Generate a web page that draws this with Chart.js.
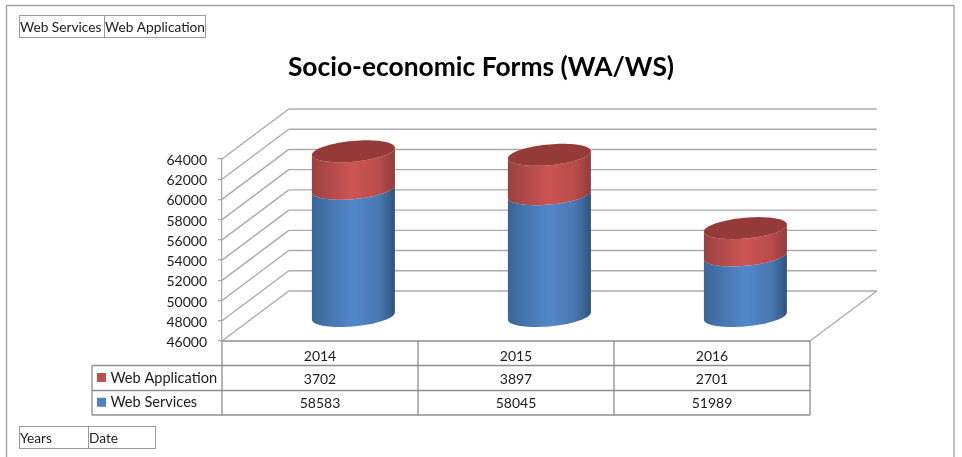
<!DOCTYPE html>
<html>
<head>
<meta charset="utf-8">
<title>Socio-economic Forms (WA/WS)</title>
<script src="https://cdn.jsdelivr.net/npm/chart.js@4"></script>
<style>
    html, body { margin: 0; padding: 0; background: #fff; overflow: hidden; }
    canvas { display: block; }
</style>
</head>
<body>
<canvas id="chart" width="962" height="457"></canvas>
<script>
const years = ["2014", "2015", "2016"]
const webServices = [58583, 58045, 51989]
const webApplication = [3702, 3897, 2701]
const axisMin = 46000
const axisMax = 64000
const axisStep = 2000
const topFields = ["Web Services", "Web Application"]
const bottomFields = ["Years", "Date"]

const FONT = "Lato, Carlito, sans-serif"
const TEXT = "#1c1c1c"
const WALL = "#ababab"
const TABLE = "#8e8e8e"
const DEPTH_X = 66.8
const DEPTH_Y = -50

function line(ctx, x1, y1, x2, y2) {
    ctx.beginPath()
    ctx.moveTo(x1, y1)
    ctx.lineTo(x2, y2)
    ctx.stroke()
}

// point on the tilted end ellipse of a cylinder, t in radians
function rim(cx, cy, a, t) {
    return [cx + a * Math.cos(t), cy + 10.4 * Math.sin(t) - 3.6 * Math.cos(t)]
}

function cylinderPart(ctx, cx, a, top, bottom, stops) {
    const grad = ctx.createLinearGradient(cx - a, 0, cx + a, 0)
    stops.forEach(c => grad.addColorStop(c[0], c[1]))
    ctx.fillStyle = grad
    ctx.beginPath()
    for (let i = 0; i <= 40; i++) {
        const p = rim(cx, bottom, a, Math.PI * i / 40)
        ctx.lineTo(p[0], p[1])
    }
    for (let i = 40; i >= 0; i--) {
        const p = rim(cx, top, a, Math.PI * i / 40)
        ctx.lineTo(p[0], p[1])
    }
    ctx.closePath()
    ctx.fill()
}

function cap(ctx, cx, a, y, color) {
    ctx.fillStyle = color
    ctx.beginPath()
    for (let i = 0; i <= 80; i++) {
        const p = rim(cx, y, a, Math.PI * 2 * i / 80)
        ctx.lineTo(p[0], p[1])
    }
    ctx.closePath()
    ctx.fill()
}

const blueStops = [[0, "#3a6596"], [0.2, "#4674ad"], [0.5, "#5288cb"], [0.8, "#4a78b2"], [0.92, "#3a6494"], [1, "#2f527e"]]
const redStops = [[0, "#9a403e"], [0.2, "#b0494a"], [0.5, "#cc5552"], [0.8, "#ba4c4a"], [1, "#923c3a"]]

const walls3d = {
    id: "walls3d",
    beforeDatasetsDraw(chart) {
        const ctx = chart.ctx
        const y = chart.scales.y
        const area = chart.chartArea
        ctx.save()
        ctx.strokeStyle = WALL
        ctx.lineWidth = 1.4
        y.ticks.forEach(tick => {
            const py = y.getPixelForValue(tick.value)
            line(ctx, area.left, py, area.left + DEPTH_X, py + DEPTH_Y)
            line(ctx, area.left + DEPTH_X, py + DEPTH_Y, area.right + DEPTH_X, py + DEPTH_Y)
        })
        // floor edge on the right
        line(ctx, area.right, area.bottom, area.right + DEPTH_X, area.bottom + DEPTH_Y)
        ctx.restore()

        // cylinders stand half way into the depth
        ctx.save()
        const count = chart.getDatasetMeta(0).data.length
        for (let i = 0; i < count; i++) {
            const low = chart.getDatasetMeta(0).data[i]
            const high = chart.getDatasetMeta(1).data[i]
            const cx = low.x + DEPTH_X / 2
            const a = low.width / 2
            const base = Math.min(low.base, area.bottom) + DEPTH_Y / 2
            const seam = low.y + DEPTH_Y / 2
            const top = high.y + DEPTH_Y / 2
            cylinderPart(ctx, cx, a, seam, base, blueStops)
            cylinderPart(ctx, cx, a, top, seam, redStops)
            cap(ctx, cx, a, top, "#943a38")
        }
        ctx.restore()
    },
    beforeDatasetDraw() {
        return false
    }
}

function fieldBoxes(ctx, names, edges, top, bottom) {
    names.forEach((name, i) => {
        ctx.strokeRect(edges[i], top, edges[i + 1] - edges[i], bottom - top)
        ctx.fillText(name, edges[i] + 0.5, (top + bottom) / 2 + 1)
    })
}

const dataTable = {
    id: "dataTable",
    afterDraw(chart) {
        const ctx = chart.ctx
        const x = chart.scales.x
        const area = chart.chartArea
        const rows = [area.bottom, 365.5, 390.5, 415]
        const legendLeft = 92
        const step = (area.right - area.left) / years.length
        ctx.save()

        // frame around the whole object
        ctx.strokeStyle = "#a3a3a3"
        ctx.lineWidth = 1.4
        ctx.beginPath()
        ctx.moveTo(6.5, 470)
        ctx.lineTo(6.5, 5.5)
        ctx.lineTo(954, 5.5)
        ctx.lineTo(954, 470)
        ctx.stroke()

        // table grid
        ctx.strokeStyle = TABLE
        ctx.lineWidth = 1.3
        line(ctx, area.left, rows[0], area.right, rows[0])
        line(ctx, legendLeft, rows[1], area.right, rows[1])
        line(ctx, legendLeft, rows[2], area.right, rows[2])
        line(ctx, legendLeft, rows[3], area.right, rows[3])
        line(ctx, legendLeft, rows[1], legendLeft, rows[3])
        years.forEach((year, i) => line(ctx, area.left + step * i, rows[0], area.left + step * i, rows[3]))
        line(ctx, area.right, rows[0], area.right, rows[3])

        // rows, top one is the upper stack
        const tableRows = [[webApplication, chart.data.datasets[1]], [webServices, chart.data.datasets[0]]]
        ctx.textBaseline = "middle"
        tableRows.forEach((row, r) => {
            const mid = (rows[r + 1] + rows[r + 2]) / 2
            ctx.fillStyle = row[1].backgroundColor
            ctx.fillRect(97, mid - 5, 9, 9)
            ctx.fillStyle = TEXT
            ctx.font = "14.6px " + FONT
            ctx.textAlign = "left"
            ctx.fillText(row[1].label, 110.5, mid)
            ctx.font = "14px " + FONT
            ctx.textAlign = "center"
            row[0].forEach((v, i) => ctx.fillText(String(v), x.getPixelForValue(i), mid + 1))
        })

        // field buttons
        ctx.strokeStyle = "#9a9a9a"
        ctx.lineWidth = 1
        ctx.fillStyle = TEXT
        ctx.font = "13.7px " + FONT
        ctx.textAlign = "left"
        fieldBoxes(ctx, topFields, [19.5, 104.5, 205.5], 15.5, 37.5)
        fieldBoxes(ctx, bottomFields, [19.5, 88.5, 155.5], 426.5, 448.5)
        ctx.restore()
    }
}

new Chart(document.getElementById("chart"), {
    type: "bar",
    data: {
        labels: years,
        datasets: [
            { label: "Web Services", data: webServices, backgroundColor: "#4f81bd" },
            { label: "Web Application", data: webApplication, backgroundColor: "#c0504d" }
        ]
    },
    options: {
        responsive: false,
        animation: false,
        events: [],
        datasets: { bar: { categoryPercentage: 1, barPercentage: 0.4235 } },
        plugins: {
            legend: { display: false },
            tooltip: { enabled: false },
            title: {
                display: true,
                text: "Socio-economic Forms (WA/WS)",
                color: "#000",
                font: { family: FONT, size: 26.4, weight: "bold" },
                padding: { top: 52, bottom: 75.3 }
            }
        },
        scales: {
            x: {
                stacked: true,
                grid: { display: false },
                border: { display: false },
                ticks: { color: TEXT, font: { family: FONT, size: 14 }, padding: -1, maxRotation: 0 },
                afterFit(scale) { scale.height = 116 }
            },
            y: {
                stacked: true,
                min: axisMin,
                max: axisMax,
                grid: { drawOnChartArea: false, color: WALL, tickLength: 4, lineWidth: 1.3 },
                border: { display: true, color: WALL, width: 1.3 },
                ticks: {
                    stepSize: axisStep,
                    color: TEXT,
                    font: { family: FONT, size: 14 },
                    padding: 11,
                    labelOffset: 1.5,
                    callback: v => String(v)
                },
                afterFit(scale) { scale.width = 222 }
            },
            // empty axis, keeps the room the depth needs on the right and the title centred
            side: {
                position: "right",
                grid: { display: false },
                border: { display: false },
                ticks: { display: false },
                afterFit(scale) { scale.width = 152 }
            }
        }
    },
    plugins: [walls3d, dataTable]
})
</script>
</body>
</html>
